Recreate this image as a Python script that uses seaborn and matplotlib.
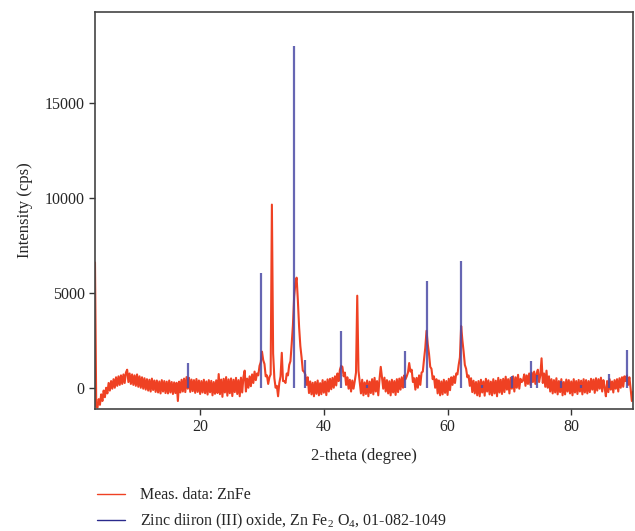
import numpy as np
import pandas as pd
import matplotlib
matplotlib.use('Agg')
import matplotlib.pyplot as plt
from matplotlib.lines import Line2D
import seaborn as sns

counts = [
    6600, -1000, -1050, -600, -900, -350, -700, -150, -500, 0,
    -300, 250, -150, 350, -50, 450, 0, 550, 100, 600,
    150, 650, 200, 700, 250, 800, 950, 300, 750, 200,
    700, 150, 650, 100, 700, 50, 600, 0, 550, -50,
    500, -100, 450, -150, 420, -200, 480, -120, 380, -220,
    380, -250, 330, -300, 400, -200, 350, -280, 320, -300,
    380, -250, 300, -330, 280, -280, 260, -700, 320, -250,
    420, -200, 480, -230, 560, -50, 520, -220, 430, -180,
    400, -270, 460, -220, 380, -330, 350, -250, 420, -290,
    330, -360, 400, -240, 360, -400, 300, -320, 390, -280,
    720, -340, 430, -480, 470, -250, 560, -420, 440, -290,
    490, -440, 420, -230, 520, -330, 400, -450, 530, -250,
    560, 900, -200, 480, 0, 600, 80, 700, 250, 850,
    400, 750, 650, 1150, 1350, 1900, 1450, 1250, 600, 650,
    200, 550, 700, 9650, 1800, 500, 0, 100, -450, 250,
    600, 1840, 350, 350, 250, 750, 650, 1200, 1400, 2300,
    3300, 4800, 5500, 5800, 4600, 3200, 2200, 1600, 900, 850,
    700, 150, 550, -280, 330, -350, 260, -450, 300, -320,
    380, -400, 240, -340, 400, -260, 330, -390, 440, -200,
    470, -80, 520, 0, 600, 120, 750, 350, 950, 1150,
    1100, 600, 800, 150, 550, -50, 420, -200, 380, -50,
    350, 800, 4850, 900, 300, -300, 420, -400, 280, -330,
    380, -450, 320, -280, 450, -350, 520, -200, 350, -400,
    450, 1100, 550, -50, 530, -200, 400, -300, 340, -400,
    420, -250, 350, -380, 450, -230, 480, -100, 550, 0,
    650, 450, 600, 800, 1300, 850, 950, 300, 500, -100,
    520, 0, 650, 150, 800, 850, 1500, 2100, 3000, 2300,
    1800, 1100, 1000, 450, 600, 0, 450, -300, 380, -400,
    330, -350, 420, -270, 350, -380, 470, -130, 550, 150,
    600, 250, 750, 700, 1200, 1600, 3250, 2500, 1900, 1200,
    1000, 550, 650, 100, 500, -230, 370, -300, 300, -400,
    350, -450, 420, -250, 330, -420, 470, -200, 390, -350,
    320, -400, 450, -300, 370, -450, 520, -250, 420, -330,
    470, -230, 580, -100, 450, -300, 520, -50, 600, -200,
    550, 0, 680, -50, 470, 300, 380, 700, 100, 650,
    200, 750, 150, 800, 300, 850, 200, 750, 950, 300,
    650, 1550, 250, 750, 50, 900, 0, 600, -200, 450,
    -300, 400, -250, 500, -350, 350, -230, 450, -400, 300,
    -350, 430, -200, 400, -300, 330, -400, 450, -250, 350,
    -330, 410, -200, 370, -350, 450, -250, 400, -300, 350,
    -230, 470, -100, 430, -270, 500, -150, 450, -50, 530,
    -200, 400, 0, -450, 350, -230, 450, -100, 330, -250,
    400, -50, 450, -200, 500, 0, 550, 50, 600, 350,
    650, 150, 550, -50, -700, -200,
]
two_theta = np.round(np.linspace(3.0, 90.0, len(counts)), 1)

# reference card 01-082-1049 sticks
ref_pos = [18.1, 29.9, 35.25, 36.9, 42.85, 47.0, 53.15, 56.65, 62.15, 65.5,
           70.5, 73.5, 74.5, 78.4, 81.6, 86.1, 88.95]
ref_int = [1280, 6070, 18000, 1460, 2970, 150, 1930, 5630, 6680, 150,
           620, 1400, 670, 350, 130, 700, 1980]

meas = pd.DataFrame({'two_theta': two_theta, 'counts': counts})

sns.set_style('ticks')
plt.rcParams['font.family'] = ['Liberation Serif', 'DejaVu Serif']
plt.rcParams['mathtext.fontset'] = 'custom'
plt.rcParams['mathtext.rm'] = 'Liberation Serif'
plt.rcParams['path.simplify'] = False

red = '#ef4123'
blue = '#4b4ba6'

fig = plt.figure(figsize=(6.35, 5.31), dpi=100)
ax = fig.add_axes([0.1496, 0.2298, 0.8474, 0.7476])

sns.lineplot(data=meas, x='two_theta', y='counts', color=red, lw=1.5,
             estimator=None, sort=False, ax=ax, zorder=2)
ax.vlines(ref_pos, 0, ref_int, color=blue, lw=1.6, alpha=0.85, zorder=3)

ax.set_xlim(3, 90)
ax.set_ylim(-1120, 19800)
ax.set_xticks([20, 40, 60, 80])
ax.set_yticks([0, 5000, 10000, 15000])
ax.tick_params(labelsize=11.5, length=4, width=1, color='#333333')
ax.set_xlabel('2-theta (degree)', fontsize=12, labelpad=9)
ax.set_ylabel('Intensity (cps)', fontsize=12, labelpad=8)
for s in ax.spines.values():
    s.set_color('#444444')
    s.set_linewidth(1.2)

handles = [Line2D([], [], color=red, lw=1),
           Line2D([], [], color='#2a2a8c', lw=1)]
labels = ['Meas. data: ZnFe', r'Zinc diiron (III) oxide, Zn Fe$_2$ O$_4$, 01-082-1049']
fig.legend(handles, labels, loc='upper left', bbox_to_anchor=(0.152, 0.082),
           frameon=False, fontsize=11.5, borderpad=0, borderaxespad=0,
           handlelength=1.8, handletextpad=0.9, labelspacing=0.55)

fig.savefig('out.png', dpi=100)
